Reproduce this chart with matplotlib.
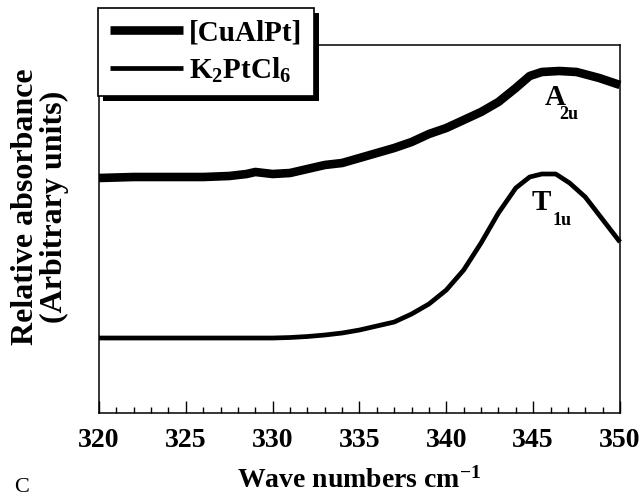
import numpy as np
import matplotlib
matplotlib.use("Agg")
import matplotlib.pyplot as plt
from matplotlib.patches import Rectangle
from matplotlib.ticker import MultipleLocator

plt.rcParams['font.family'] = ['Liberation Serif', 'DejaVu Serif']
plt.rcParams['font.weight'] = 'bold'
plt.rcParams['axes.labelweight'] = 'bold'
plt.rcParams['mathtext.fontset'] = 'custom'
plt.rcParams['mathtext.rm'] = 'Liberation Serif:bold'
plt.rcParams['mathtext.it'] = 'Liberation Serif:bold'
plt.rcParams['mathtext.bf'] = 'Liberation Serif:bold'

# [CuAlPt] (thick curve), relative absorbance
cu_x = [320, 322, 324, 326, 327.5, 328.5, 329, 330, 331, 332, 333, 334, 335, 336,
        337, 338, 339, 340, 341, 342, 343, 344, 344.8, 345.5, 346.5, 347.5, 348.8, 350]
cu_y = [235, 236, 236, 236, 237, 239, 241, 239, 240, 244, 248, 250, 255, 260,
        265, 271, 279, 285, 293, 301, 311, 325, 337, 341, 342, 341, 335, 328]

# K2PtCl6 (thin curve)
k_x = [320, 325, 330, 331, 332, 333, 334, 335, 336, 337, 338, 339, 340, 341,
       342, 343, 344, 344.8, 345.5, 346.3, 347.1, 348, 348.8, 350]
k_y = [75, 75, 75, 75.5, 76.5, 78, 80, 83, 87, 91, 99, 109, 123, 143,
       170, 200, 225, 236, 239, 239, 230, 216, 198, 171]

fig = plt.figure(figsize=(6.42, 4.96), dpi=100)
ax = fig.add_axes([0.1542, 0.1673, 0.8115, 0.742])

l1, = ax.plot(cu_x, cu_y, color='black', lw=6.2, solid_capstyle='butt', clip_on=False)
l2, = ax.plot(k_x, k_y, color='black', lw=3.4, solid_capstyle='butt', clip_on=False)

ax.set_xlim(320, 350)
ax.set_ylim(0, 368)
ax.xaxis.set_major_locator(MultipleLocator(5))
ax.xaxis.set_minor_locator(MultipleLocator(1))
ax.tick_params(axis='x', which='major', direction='in', length=9, width=1, labelsize=20, pad=11)
ax.tick_params(axis='x', which='minor', direction='in', length=4.5, width=1)
ax.set_yticks([])
for s in ax.spines.values():
    s.set_linewidth(1.1)

ax.set_xlabel(r'Wave numbers cm$^{\mathregular{-1}}$', fontsize=20, labelpad=10)
ax.set_ylabel('Relative absorbance\n(Arbitrary units)', fontsize=23, linespacing=1.0)
ax.yaxis.set_label_coords(-0.058, 0.56)

ax.text(346.25, 315, 'A', fontsize=21, ha='center', va='center')
ax.text(346.5, 298, '2u', fontsize=13, ha='left', va='center')
ax.text(345.45, 211, 'T', fontsize=21, ha='center', va='center')
ax.text(346.1, 193, '1u', fontsize=13, ha='left', va='center')

fig.text(0.022, 0.008, 'C', fontsize=16, fontweight='normal')

leg = fig.legend([l1, l2], ['[CuAlPt]', r'K$_{\mathregular{2}}$PtCl$_{\mathregular{6}}$'],
                 loc='upper left', bbox_to_anchor=(0.153, 0.984), fontsize=21,
                 frameon=True, fancybox=False, handlelength=2.5, handletextpad=0.2,
                 borderpad=0.4, labelspacing=0.3, borderaxespad=0)
leg.get_frame().set_edgecolor('black')
leg.get_frame().set_facecolor('white')
leg.get_frame().set_alpha(1)
leg.get_frame().set_linewidth(1.2)
leg.set_zorder(6)

fig.canvas.draw()
bb = leg.get_window_extent().transformed(fig.transFigure.inverted())
dx = 5 / 642
dy = 5 / 496
fig.patches.append(Rectangle((bb.x0 + dx, bb.y0 - dy), bb.width, bb.height,
                             transform=fig.transFigure, facecolor='black',
                             edgecolor='none', zorder=5, figure=fig))

fig.savefig('out.png', dpi=100)
